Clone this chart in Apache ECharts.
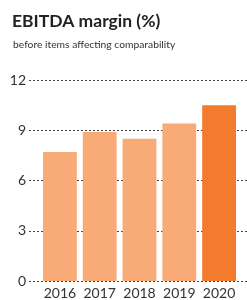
<!DOCTYPE html>
<html>
<head>
<meta charset="utf-8">
<script src="https://cdn.jsdelivr.net/npm/echarts@6/dist/echarts.min.js"></script>
<style>
  html, body { margin: 0; padding: 0; background: #fff; }
  #chart { width: 247px; height: 300px; }
</style>
</head>
<body>
<div id="chart"></div>
<script>
const years = ['2016', '2017', '2018', '2019', '2020']
const margins = [7.7, 8.9, 8.5, 9.4, 10.5]
const yTicks = [0, 3, 6, 9, 12]

const light = '#f8ab76'
const dark = '#f37b2e'
const font = 'Lato, sans-serif'

const chart = echarts.init(document.getElementById('chart'))

chart.setOption({
  animation: false,
  backgroundColor: '#fff',
  title: [{
    text: 'EBITDA margin (%)',
    left: 7,
    top: 7,
    textStyle: { fontFamily: font, fontWeight: 'bold', fontSize: 17.5, color: '#222' }
  }, {
    text: 'before items affecting comparability',
    left: 8,
    top: 35,
    textStyle: { fontFamily: font, fontWeight: 'normal', fontSize: 10.3, color: '#333' }
  }],
  grid: [
    { left: 29, right: 0, top: 80, bottom: 19 },
    { left: 40, right: 8, top: 80, bottom: 19 }
  ],
  xAxis: [{
    gridIndex: 0,
    type: 'value',
    show: false,
    min: 0,
    max: 1
  }, {
    gridIndex: 1,
    type: 'category',
    data: years,
    axisLine: { show: false },
    axisTick: { show: false },
    axisLabel: { interval: 0, margin: 5, fontFamily: font, fontSize: 14, color: '#333' }
  }],
  yAxis: [{
    gridIndex: 0,
    type: 'value',
    min: yTicks[0],
    max: yTicks[yTicks.length - 1],
    interval: 3,
    axisLine: { show: false },
    axisTick: { show: false },
    axisLabel: { margin: 3, fontFamily: font, fontSize: 14, color: '#333' },
    splitLine: { lineStyle: { color: '#444', type: [2, 2], width: 1 } }
  }, {
    gridIndex: 1,
    type: 'value',
    min: yTicks[0],
    max: yTicks[yTicks.length - 1],
    show: false,
    splitLine: { show: false }
  }],
  series: [{
    type: 'bar',
    xAxisIndex: 1,
    yAxisIndex: 1,
    barCategoryGap: '15%',
    data: margins.map((v, i) => ({
      value: v,
      itemStyle: { color: i === margins.length - 1 ? dark : light }
    }))
  }]
})
</script>
</body>
</html>
